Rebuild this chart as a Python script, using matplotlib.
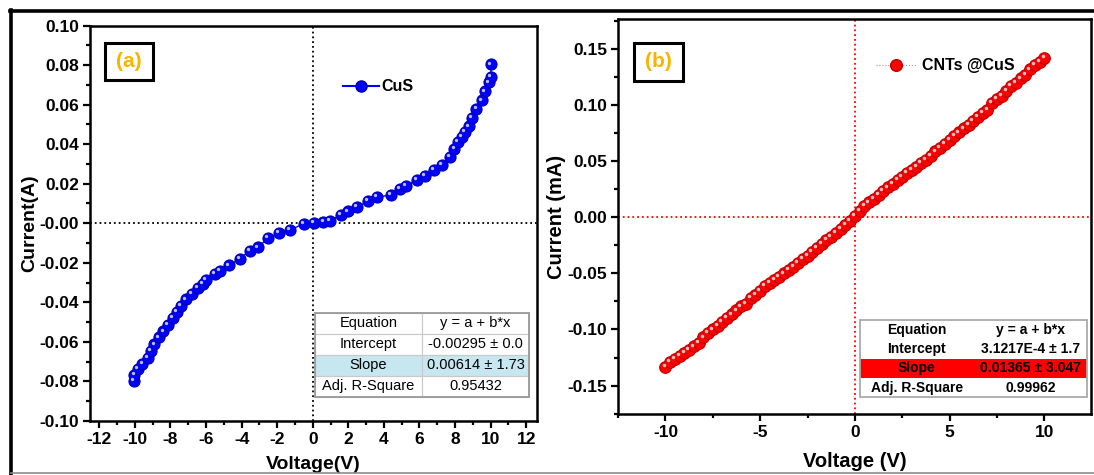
import numpy as np
import matplotlib
matplotlib.use('Agg')
from matplotlib import pyplot as plt
from matplotlib.patches import Rectangle
from matplotlib.lines import Line2D
from matplotlib.transforms import offset_copy
from matplotlib.ticker import MultipleLocator, FormatStrFormatter

plt.rcParams['font.family'] = ['Liberation Sans', 'DejaVu Sans']
plt.rcParams['font.weight'] = 'bold'
plt.rcParams['axes.unicode_minus'] = False

# I-V sweep, CuS film (A)
cus_v = [-10.06, -10.03, -9.83, -9.58, -9.28, -9.08, -8.9, -8.65, -8.4, -8.13,
         -7.85, -7.65, -7.4, -7.12, -6.78, -6.47, -6.2, -5.99, -5.5, -5.24,
         -4.7, -4.08, -3.55, -3.1, -2.5, -1.9, -1.3, -0.5, 0.06, 0.6,
         0.98, 1.56, 1.96, 2.5, 3.1, 3.6, 4.4, 4.9, 5.25, 5.85,
         6.32, 6.82, 7.24, 7.7, 7.97, 8.17, 8.37, 8.56, 8.76, 8.96,
         9.2, 9.5, 9.7, 9.9, 10.0, 10.04]
cus_i = [-0.0798, -0.0767, -0.0738, -0.0712, -0.0681, -0.0644, -0.0613, -0.0578, -0.0547, -0.0513,
         -0.0478, -0.0449, -0.0420, -0.0385, -0.0358, -0.0329, -0.0308, -0.0286, -0.0255, -0.0243,
         -0.0213, -0.0179, -0.0139, -0.0122, -0.0075, -0.0050, -0.0034, -0.0003, 0.0, 0.0005,
         0.0012, 0.0043, 0.0060, 0.0082, 0.0112, 0.0132, 0.0143, 0.0172, 0.0189, 0.0220,
         0.0241, 0.0271, 0.0296, 0.0335, 0.0378, 0.0412, 0.0438, 0.0464, 0.0490, 0.0533,
         0.0579, 0.0622, 0.0667, 0.0713, 0.0739, 0.0804]

# I-V sweep, CNTs@CuS composite (mA)
cnt_v = [-10.0, -9.75, -9.5, -9.25, -9.0, -8.75, -8.5, -8.25, -8.0, -7.75,
         -7.5, -7.25, -7.0, -6.75, -6.5, -6.25, -6.0, -5.75, -5.5, -5.25,
         -5.0, -4.75, -4.5, -4.25, -4.0, -3.75, -3.5, -3.25, -3.0, -2.75,
         -2.5, -2.25, -2.0, -1.75, -1.5, -1.25, -1.0, -0.75, -0.5, -0.25,
         0.0, 0.25, 0.5, 0.75, 1.0, 1.25, 1.5, 1.75, 2.0, 2.25,
         2.5, 2.75, 3.0, 3.25, 3.5, 3.75, 4.0, 4.25, 4.5, 4.75,
         5.0, 5.25, 5.5, 5.75, 6.0, 6.25, 6.5, 6.75, 7.0, 7.25,
         7.5, 7.75, 8.0, 8.25, 8.5, 8.75, 9.0, 9.25, 9.5, 9.75, 10.0]
cnt_i = [-0.1330, -0.1290, -0.1260, -0.1235, -0.1210, -0.1185, -0.1150, -0.1120, -0.1070, -0.1030,
         -0.1000, -0.0965, -0.0935, -0.0900, -0.0865, -0.0830, -0.0795, -0.0770, -0.0720, -0.0690,
         -0.0655, -0.0610, -0.0585, -0.0560, -0.0530, -0.0500, -0.0470, -0.0445, -0.0410, -0.0370,
         -0.0345, -0.0310, -0.0275, -0.0235, -0.0205, -0.0175, -0.0143, -0.0105, -0.0070, -0.0036,
         0.0008, 0.0055, 0.0098, 0.0132, 0.0165, 0.0198, 0.0232, 0.0265, 0.0298, 0.0330,
         0.0360, 0.0395, 0.0418, 0.0445, 0.0480, 0.0512, 0.0545, 0.0585, 0.0620, 0.0655,
         0.0690, 0.0725, 0.0755, 0.0790, 0.0822, 0.0858, 0.0895, 0.0925, 0.0955, 0.1015,
         0.1050, 0.1080, 0.1125, 0.1170, 0.1198, 0.1235, 0.1270, 0.1315, 0.1355, 0.1380, 0.1417]

fit_rows = ['Equation', 'Intercept', 'Slope', 'Adj. R-Square']
fit_cus = ['y = a + b*x', '-0.00295 \u00b1 0.0', '0.00614 \u00b1 1.73', '0.95432']
fit_cnt = ['y = a + b*x', '3.1217E-4 \u00b1 1.7', '0.01365 \u00b1 3.047', '0.99962']


def glossy(ax, x, y, color, edge, ms, **kw):
    line, = ax.plot(x, y, 'o', ms=ms, mfc=color, mec=edge, mew=0.8, **kw)
    tr = offset_copy(ax.transData, fig=ax.figure, x=-1.3, y=1.3, units='points')
    ax.plot(x, y, 'o', ms=ms * 0.3, mfc='white', mec='none', alpha=0.75,
            transform=tr, zorder=line.get_zorder() + 0.1)
    return line


def style_axes(ax):
    for s in ax.spines.values():
        s.set_linewidth(1.8)
    ax.tick_params(which='both', direction='out', width=1.6, labelsize=12.5,
                   top=False, right=False)
    ax.tick_params(which='major', length=5, pad=3)
    ax.tick_params(which='minor', length=3)
    for lab in ax.get_xticklabels() + ax.get_yticklabels():
        lab.set_fontweight('bold')


def panel_tag(ax, box, txt):
    x0, y0, x1, y1 = box
    ax.add_patch(Rectangle((x0, y0), x1 - x0, y1 - y0, transform=ax.transAxes,
                           fc='white', ec='black', lw=2.2, zorder=5))
    ax.text((x0 + x1) / 2, (y0 + y1) / 2, txt, transform=ax.transAxes,
            ha='center', va='center', fontsize=15, fontweight='bold',
            color='#f7b500', zorder=6)


fig = plt.figure(figsize=(10.94, 4.75), dpi=100)

# ---- (a) CuS ----
ax1 = fig.add_axes([0.0827, 0.114, 0.408, 0.832])
ax1.axvline(0, color='black', ls=':', lw=1.3, zorder=1)
ax1.axhline(0, color='black', ls=':', lw=1.3, zorder=1)
ax1.plot(cus_v, cus_i, '-', color='blue', lw=1.0, zorder=2)
glossy(ax1, cus_v, cus_i, 'blue', '#0000b0', 8.0, zorder=3)
ax1.set_xlim(-12.5, 12.6)
ax1.set_ylim(-0.10, 0.10)
ax1.xaxis.set_major_locator(MultipleLocator(2))
ax1.xaxis.set_minor_locator(MultipleLocator(1))
ax1.yaxis.set_major_locator(MultipleLocator(0.02))
ax1.yaxis.set_minor_locator(MultipleLocator(0.01))
ax1.yaxis.set_major_formatter(FormatStrFormatter('%.2f'))
ax1.set_xlabel('Voltage(V)', fontsize=14, fontweight='bold', labelpad=6.5)
ax1.set_ylabel('Current(A)', fontsize=14, fontweight='bold', labelpad=1)
style_axes(ax1)
h1 = Line2D([], [], color='blue', lw=1.5, marker='o', ms=8.0, mfc='blue', mec='#0000b0')
ax1.legend([h1], ['CuS'], loc='center left', bbox_to_anchor=(0.565, 0.845),
           frameon=False, handlelength=2.3, handletextpad=0.1, borderpad=0,
           borderaxespad=0, prop={'size': 11.5, 'weight': 'bold'})
panel_tag(ax1, (0.0316, 0.862, 0.140, 0.9565), '(a)')

tb1 = ax1.table(cellText=[[r, v] for r, v in zip(fit_rows, fit_cus)],
                cellLoc='center', bbox=[0.503, 0.061, 0.48, 0.212], zorder=6)
tb1.auto_set_font_size(False)
for (r, c), cell in tb1.get_celld().items():
    cell.set_edgecolor('#c8c8c8')
    cell.set_linewidth(0.8)
    cell.get_text().set_fontsize(10.5)
    cell.get_text().set_fontweight('normal')
    cell.set_facecolor('#c6e7f0' if r == 2 else 'white')
ax1.add_patch(Rectangle((0.503, 0.061), 0.48, 0.212, transform=ax1.transAxes,
                        fill=False, ec='#999999', lw=1.3, zorder=7))

# ---- (b) CNTs@CuS ----
ax2 = fig.add_axes([0.565, 0.129, 0.432, 0.830])
ax2.axvline(0, color='red', ls=':', lw=1.3, zorder=1)
ax2.axhline(0, color='red', ls=':', lw=1.3, zorder=1)
ax2.plot(cnt_v, cnt_i, ':', color='#9a9a9a', lw=0.8, zorder=2)
glossy(ax2, cnt_v, cnt_i, 'red', '#c00000', 8.4, zorder=3)
ax2.set_xlim(-12.5, 12.45)
ax2.set_ylim(-0.175, 0.176)
ax2.xaxis.set_major_locator(MultipleLocator(5))
ax2.xaxis.set_minor_locator(MultipleLocator(2.5))
ax2.yaxis.set_major_locator(MultipleLocator(0.05))
ax2.yaxis.set_minor_locator(MultipleLocator(0.025))
ax2.yaxis.set_major_formatter(FormatStrFormatter('%.2f'))
ax2.set_xlabel('Voltage (V)', fontsize=14.5, fontweight='bold', labelpad=9)
ax2.set_ylabel('Current (mA)', fontsize=14.5, fontweight='bold', labelpad=1)
style_axes(ax2)
h2 = Line2D([], [], color='#9a9a9a', lw=0.8, ls=':', marker='o', ms=8.4,
            mfc='red', mec='#c00000')
ax2.legend([h2], ['CNTs @CuS'], loc='center left', bbox_to_anchor=(0.545, 0.882),
           frameon=False, handlelength=2.6, handletextpad=0.3, borderpad=0,
           borderaxespad=0, prop={'size': 11.5, 'weight': 'bold'})
panel_tag(ax2, (0.033, 0.845, 0.137, 0.940), '(b)')

tb2 = ax2.table(cellText=[[r, v] for r, v in zip(fit_rows, fit_cnt)],
                cellLoc='center', bbox=[0.512, 0.042, 0.48, 0.196], zorder=6)
tb2.auto_set_font_size(False)
for (r, c), cell in tb2.get_celld().items():
    cell.set_linewidth(0)
    cell.get_text().set_fontsize(10)
    cell.get_text().set_fontweight('bold')
    cell.set_facecolor('#ff0000' if r == 2 else 'white')
ax2.add_patch(Rectangle((0.512, 0.042), 0.48, 0.196, transform=ax2.transAxes,
                        fill=False, ec='#aaaaaa', lw=1.3, zorder=7))

# outer frame
fig.add_artist(Line2D([0.009, 1.0], [0.976, 0.976], color='black', lw=2.6))
fig.add_artist(Line2D([0.0105, 0.0105], [0.978, 0.0], color='black', lw=2.6))
fig.add_artist(Line2D([0.0105, 1.0], [0.005, 0.005], color='#8c8c8c', lw=1.2))

fig.savefig('out.png', dpi=100)
